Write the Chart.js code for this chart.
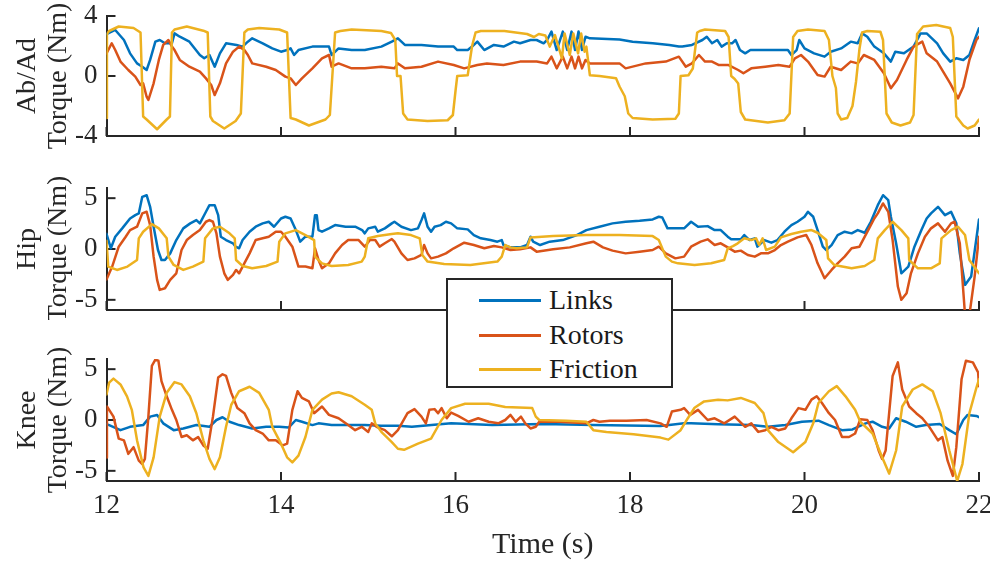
<!DOCTYPE html>
<html>
<head>
<meta charset="utf-8">
<script src="https://cdn.jsdelivr.net/npm/chart.js@4.4.1/dist/chart.umd.min.js"></script>
<style>
  html, body { margin: 0; padding: 0; background: #fff; }
  #wrap { position: relative; width: 990px; height: 563px; overflow: hidden; background: #fff; }
  canvas { position: absolute; left: 0; }
  #legend { position: absolute; left: 446px; top: 278px; width: 227px; height: 110px; box-sizing: border-box;
            border: 2px solid #262626; background: #fff; z-index: 10; font-family: "Liberation Serif", "Times New Roman", serif; color: #1a1a1a; }
  .row { position: absolute; left: 0; width: 100%; height: 30px; }
  .swatch { position: absolute; left: 31px; width: 62px; height: 3px; top: 14px; }
  .lbl { position: absolute; left: 101px; top: 0; font-size: 28px; line-height: 30px; }
</style>
</head>
<body>
<div id="wrap">
  <canvas id="c1" width="990" height="150" style="top:0px"></canvas>
  <canvas id="c2" width="990" height="160" style="top:160px"></canvas>
  <canvas id="c3" width="990" height="233" style="top:330px"></canvas>
  <div id="legend"></div>
</div>
<script>
// ---------------- data (time [s], torque [Nm]) ----------------
const seriesNames = ['Links', 'Rotors', 'Friction'];
const xTicks = [12, 14, 16, 18, 20, 22];
const abadTicks = [-4, 0, 4];
const hipTicks = [-5, 0, 5];
const kneeTicks = [-5, 0, 5];

const abadLinks = [[12.0,2.8],[12.10,3.07],[12.20,2.4],[12.27,1.51],[12.35,0.84],[12.41,0.62],[12.46,0.4],[12.50,1.07],[12.56,2.29],[12.61,2.4],[12.67,2.18],[12.75,2.18],[12.78,2.84],[12.84,2.62],[12.95,2.29],[13.07,1.4],[13.12,1.18],[13.18,1.4],[13.24,0.62],[13.30,1.51],[13.37,2.18],[13.49,2.07],[13.56,1.96],[13.62,2.29],[13.67,2.51],[13.79,2.18],[13.90,1.84],[14.00,1.62],[14.07,1.73],[14.11,1.84],[14.15,1.4],[14.20,1.73],[14.36,1.96],[14.55,1.96],[14.58,1.4],[14.66,1.84],[14.81,1.73],[14.96,1.73],[15.15,1.96],[15.27,2.29],[15.34,2.51],[15.42,2.07],[15.61,2.07],[15.80,1.96],[15.98,1.96],[16.02,1.73],[16.14,1.73],[16.19,1.96],[16.25,2.29],[16.33,1.73],[16.44,2.07],[16.55,1.96],[16.67,2.29],[16.74,2.18],[16.86,2.4],[16.93,2.4],[17.01,2.18],[17.05,2.4],[17.10,2.96],[17.16,1.73],[17.23,2.96],[17.28,1.73],[17.33,2.96],[17.37,1.73],[17.41,2.96],[17.45,1.73],[17.49,2.62],[17.54,2.51],[17.88,2.44],[18.03,2.29],[18.26,2.18],[18.45,2.07],[18.56,1.96],[18.60,1.96],[18.71,2.07],[18.83,2.4],[18.88,2.62],[18.94,2.18],[19.00,2.4],[19.05,1.96],[19.11,2.18],[19.17,2.18],[19.21,2.4],[19.26,1.73],[19.32,1.51],[19.38,1.73],[19.51,1.73],[19.66,1.73],[19.81,1.73],[19.85,1.4],[19.91,1.73],[19.94,2.4],[20.00,1.84],[20.11,1.51],[20.23,1.29],[20.30,1.62],[20.42,1.84],[20.53,2.29],[20.61,2.18],[20.66,2.84],[20.72,2.62],[20.80,1.96],[20.91,1.51],[20.99,0.96],[21.04,1.62],[21.14,1.51],[21.25,1.96],[21.33,2.84],[21.40,2.84],[21.52,2.18],[21.59,1.51],[21.67,0.96],[21.74,1.18],[21.82,1.07],[21.89,1.4],[21.95,2.4],[22.0,3.18]];
const abadRotors = [[12.0,1.5],[12.06,2.18],[12.10,1.73],[12.16,0.96],[12.25,0.4],[12.33,-0.04],[12.39,-0.6],[12.42,-0.49],[12.46,-1.38],[12.48,-1.6],[12.54,-0.49],[12.60,1.07],[12.65,2.07],[12.71,2.4],[12.75,1.96],[12.78,1.73],[12.84,1.07],[12.95,0.62],[13.07,0.29],[13.14,-0.16],[13.20,-0.6],[13.24,-1.27],[13.30,-0.49],[13.37,0.84],[13.45,1.62],[13.52,1.96],[13.58,1.73],[13.62,1.4],[13.67,0.84],[13.83,0.62],[13.94,0.4],[14.05,-0.04],[14.11,-0.16],[14.17,-0.6],[14.24,-0.16],[14.36,0.51],[14.47,1.18],[14.55,1.4],[14.58,0.62],[14.66,0.84],[14.81,0.51],[14.96,0.51],[15.15,0.62],[15.30,0.51],[15.34,0.84],[15.42,0.51],[15.61,0.62],[15.80,0.96],[15.98,0.73],[16.10,0.51],[16.25,0.73],[16.36,0.84],[16.55,0.73],[16.74,0.96],[16.93,0.96],[17.05,0.84],[17.10,1.29],[17.16,0.51],[17.23,1.29],[17.28,0.51],[17.33,1.29],[17.37,0.51],[17.41,1.29],[17.45,0.51],[17.49,1.07],[17.54,0.84],[17.88,0.84],[17.95,0.51],[18.18,0.84],[18.41,0.96],[18.56,1.29],[18.64,0.62],[18.71,0.84],[18.79,1.4],[18.86,0.96],[18.94,0.96],[19.02,0.73],[19.13,0.73],[19.24,0.4],[19.30,0.18],[19.39,0.51],[19.55,0.62],[19.70,0.73],[19.83,0.62],[19.89,1.18],[19.96,1.4],[20.04,0.96],[20.15,0.07],[20.23,-0.04],[20.30,0.62],[20.42,0.4],[20.53,0.96],[20.61,0.84],[20.68,1.4],[20.80,1.07],[20.91,0.18],[20.99,-0.82],[21.06,-0.27],[21.17,1.07],[21.25,1.96],[21.35,2.29],[21.40,1.51],[21.52,0.96],[21.67,-0.49],[21.76,-1.49],[21.82,-0.71],[21.89,1.07],[21.97,2.4],[22.0,2.62]];
const abadFriction = [[12.0,-2.8],[12.005,2.8],[12.03,3.0],[12.14,3.3],[12.31,3.2],[12.39,2.9],[12.42,-2.7],[12.46,-2.9],[12.58,-3.55],[12.69,-2.9],[12.727,-2.7],[12.75,2.9],[12.78,3.1],[12.92,3.3],[13.11,3.02],[13.16,2.9],[13.19,-2.7],[13.22,-3.0],[13.35,-3.5],[13.48,-3.0],[13.54,-2.5],[13.58,2.9],[13.62,3.1],[13.75,3.2],[13.98,3.1],[14.07,2.9],[14.11,-2.8],[14.17,-2.9],[14.32,-3.3],[14.51,-2.9],[14.56,-2.6],[14.62,2.9],[14.68,3.0],[14.81,3.1],[15.15,3.0],[15.26,2.87],[15.31,2.4],[15.33,0.0],[15.37,0.0],[15.40,-2.5],[15.45,-2.9],[15.68,-3.0],[15.91,-2.95],[15.97,-2.6],[16.0,-1.0],[16.02,0.0],[16.14,0.05],[16.19,2.0],[16.23,2.9],[16.29,3.0],[16.56,3.0],[16.82,2.8],[16.90,2.6],[16.955,2.8],[17.03,2.7],[17.08,1.96],[17.14,2.73],[17.22,1.18],[17.25,2.84],[17.31,1.4],[17.35,2.84],[17.405,1.51],[17.44,2.84],[17.48,1.62],[17.5,1.96],[17.54,0.05],[17.65,0.0],[17.84,-0.15],[17.88,-0.7],[17.94,-1.35],[17.98,-2.5],[18.03,-2.8],[18.26,-2.9],[18.52,-2.85],[18.56,-2.5],[18.58,0.0],[18.67,0.05],[18.72,0.5],[18.77,2.9],[18.80,3.0],[18.86,3.1],[19.09,3.0],[19.13,2.6],[19.16,0.0],[19.2,-0.2],[19.24,-0.5],[19.27,-2.4],[19.32,-2.9],[19.58,-3.1],[19.77,-2.95],[19.83,-2.5],[19.87,2.6],[19.92,3.0],[20.04,3.1],[20.23,3.0],[20.28,2.4],[20.32,0.0],[20.36,-0.8],[20.38,-2.5],[20.42,-2.9],[20.49,-2.8],[20.55,-2.0],[20.59,-0.4],[20.63,1.8],[20.66,2.9],[20.72,3.0],[20.87,2.95],[20.90,2.4],[20.94,-2.5],[21.0,-3.1],[21.1,-3.3],[21.21,-3.1],[21.25,-2.6],[21.29,2.8],[21.36,3.3],[21.51,3.4],[21.67,3.2],[21.70,2.6],[21.74,-2.7],[21.82,-3.3],[21.87,-3.5],[21.95,-3.3],[22.0,-2.9]];

const hipLinks = [[12.0,1.5],[12.05,0.07],[12.10,1.21],[12.18,2.03],[12.27,3.0],[12.33,3.33],[12.37,3.5],[12.41,5.13],[12.46,5.29],[12.50,4.15],[12.54,2.19],[12.59,-0.1],[12.63,-1.08],[12.67,-1.08],[12.73,-0.43],[12.80,0.88],[12.88,2.03],[12.96,2.52],[13.03,2.84],[13.07,2.52],[13.14,3.66],[13.18,4.31],[13.24,4.31],[13.28,3.33],[13.31,1.21],[13.37,0.88],[13.45,0.56],[13.48,0.23],[13.52,0.07],[13.56,0.88],[13.64,1.7],[13.71,2.19],[13.79,2.52],[13.86,2.68],[13.92,2.19],[14.0,3.0],[14.05,3.17],[14.11,3.0],[14.17,1.86],[14.22,0.72],[14.28,1.21],[14.36,1.21],[14.39,3.33],[14.41,3.33],[14.43,1.86],[14.47,1.7],[14.55,2.03],[14.62,2.35],[14.74,2.19],[14.85,2.19],[14.93,1.86],[14.96,1.54],[15.0,2.03],[15.08,2.19],[15.11,1.7],[15.19,2.03],[15.27,2.52],[15.30,2.68],[15.38,2.19],[15.49,1.86],[15.57,2.03],[15.61,2.84],[15.64,3.5],[15.68,2.19],[15.72,1.7],[15.76,2.19],[15.83,2.35],[15.89,2.68],[15.95,2.52],[16.02,2.03],[16.14,1.93],[16.21,1.37],[16.29,1.05],[16.40,0.88],[16.48,0.72],[16.53,0.88],[16.55,0.39],[16.63,0.16],[16.74,0.16],[16.82,0.39],[16.86,1.21],[16.89,0.72],[16.97,0.39],[17.08,0.72],[17.23,0.88],[17.39,1.37],[17.50,1.86],[17.65,2.19],[17.80,2.52],[17.95,2.68],[18.11,2.78],[18.26,2.91],[18.33,3.17],[18.37,3.1],[18.43,2.03],[18.52,2.03],[18.62,2.03],[18.70,2.68],[18.78,2.19],[18.89,2.25],[18.97,1.86],[19.04,1.86],[19.12,1.21],[19.16,0.95],[19.27,0.95],[19.31,1.37],[19.37,0.88],[19.43,1.05],[19.46,0.23],[19.54,0.88],[19.62,0.62],[19.69,0.88],[19.77,1.7],[19.85,2.35],[19.92,2.68],[20.0,3.17],[20.04,3.66],[20.10,3.17],[20.15,1.86],[20.21,0.23],[20.25,-0.1],[20.31,0.39],[20.38,1.37],[20.46,1.7],[20.54,1.54],[20.61,1.86],[20.69,1.6],[20.76,2.68],[20.84,4.31],[20.90,5.29],[20.96,4.8],[20.99,3.17],[21.05,0.56],[21.11,-2.39],[21.19,-1.73],[21.26,0.23],[21.34,1.86],[21.40,3.0],[21.45,3.5],[21.53,4.15],[21.61,3.33],[21.68,3.66],[21.74,2.52],[21.78,-0.43],[21.84,-3.53],[21.91,-2.71],[22.0,2.9]];
const hipRotors = [[12.0,-3.0],[12.065,-1.73],[12.14,0.23],[12.22,1.21],[12.27,1.86],[12.35,2.19],[12.41,3.5],[12.46,3.66],[12.50,2.35],[12.54,-0.75],[12.58,-3.04],[12.61,-4.02],[12.67,-3.86],[12.73,-3.04],[12.80,-2.39],[12.86,-0.1],[12.92,0.88],[12.99,1.37],[13.07,1.86],[13.14,2.68],[13.18,2.84],[13.22,2.68],[13.26,1.54],[13.30,-0.75],[13.35,-2.39],[13.39,-3.04],[13.45,-2.55],[13.485,-2.06],[13.52,-2.39],[13.56,-1.73],[13.64,-0.43],[13.71,0.88],[13.79,1.05],[13.86,1.21],[13.94,1.7],[14.0,1.7],[14.05,1.21],[14.13,0.23],[14.20,-1.73],[14.28,-1.73],[14.36,-1.9],[14.39,0.07],[14.43,-1.08],[14.47,-1.9],[14.55,-1.41],[14.62,-0.43],[14.70,0.39],[14.77,0.88],[14.89,0.88],[14.96,0.23],[15.02,0.88],[15.08,0.88],[15.13,0.23],[15.19,0.56],[15.27,0.98],[15.30,0.72],[15.38,-0.43],[15.45,-1.08],[15.53,-0.92],[15.61,-0.59],[15.64,0.39],[15.68,-0.43],[15.72,-0.92],[15.80,-0.75],[15.89,-0.43],[15.98,0.07],[16.10,0.62],[16.21,0.39],[16.33,0.07],[16.44,0.29],[16.53,0.16],[16.63,-0.1],[16.74,-0.03],[16.86,0.16],[16.93,-0.26],[17.12,-0.03],[17.31,0.16],[17.50,0.56],[17.58,0.72],[17.69,0.16],[17.80,-0.16],[17.95,-0.43],[18.11,-0.26],[18.26,-0.1],[18.33,0.23],[18.41,-0.43],[18.52,-0.92],[18.62,-0.75],[18.70,0.23],[18.81,0.72],[18.89,0.95],[18.97,0.39],[19.04,0.56],[19.12,0.16],[19.20,-0.26],[19.27,-0.16],[19.35,-0.59],[19.43,-0.75],[19.50,-0.43],[19.58,-0.43],[19.66,-0.1],[19.73,0.39],[19.81,0.72],[19.92,1.14],[20.02,1.37],[20.08,0.39],[20.15,-1.41],[20.23,-2.88],[20.31,-2.06],[20.38,-1.41],[20.46,-0.75],[20.54,0.07],[20.63,0.23],[20.73,1.86],[20.80,3.0],[20.84,3.5],[20.90,4.48],[20.96,3.66],[21.01,0.88],[21.07,-3.69],[21.11,-5.0],[21.17,-4.35],[21.22,-2.39],[21.30,-0.43],[21.38,1.21],[21.45,2.03],[21.53,2.52],[21.61,1.7],[21.68,2.52],[21.72,2.68],[21.78,0.56],[21.84,-6.5],[21.89,-6.5],[21.95,-2.71],[22.0,1.21]];
const hipFriction = [[12.0,0.8],[12.02,-1.73],[12.12,-2.06],[12.24,-1.73],[12.35,-1.08],[12.37,1.05],[12.42,1.7],[12.52,2.45],[12.60,2.03],[12.69,1.05],[12.71,-0.75],[12.77,-1.57],[12.88,-2.06],[12.99,-1.73],[13.11,-1.24],[13.13,1.05],[13.22,2.03],[13.30,2.19],[13.41,1.54],[13.47,1.05],[13.485,-1.08],[13.56,-1.67],[13.67,-1.9],[13.83,-1.67],[13.96,-1.24],[13.98,0.72],[14.05,1.54],[14.17,1.86],[14.28,1.37],[14.38,0.88],[14.39,-0.75],[14.47,-1.41],[14.58,-1.67],[14.77,-1.57],[14.925,-1.24],[14.96,-0.75],[15.0,1.05],[15.11,1.27],[15.27,1.47],[15.34,1.54],[15.49,1.37],[15.59,1.05],[15.62,-0.59],[15.68,-1.24],[15.87,-1.47],[16.17,-1.57],[16.48,-1.24],[16.53,-0.75],[16.57,0.39],[16.63,0.16],[16.70,0.07],[16.82,0.16],[16.86,1.14],[17.12,1.27],[17.50,1.37],[17.88,1.37],[18.26,1.27],[18.33,0.88],[18.41,-0.75],[18.48,-1.24],[18.55,-1.41],[18.74,-1.57],[18.93,-1.41],[19.08,-1.08],[19.12,0.07],[19.18,0.29],[19.235,0.56],[19.31,1.05],[19.39,0.88],[19.445,1.05],[19.48,0.39],[19.52,1.05],[19.56,-0.1],[19.66,0.23],[19.73,1.14],[19.85,1.47],[19.96,1.7],[20.08,1.86],[20.15,1.6],[20.25,0.88],[20.27,-0.92],[20.34,-1.57],[20.54,-1.9],[20.69,-1.67],[20.80,-1.08],[20.84,1.05],[20.92,1.86],[21.01,2.68],[21.11,1.86],[21.19,1.05],[21.20,-1.08],[21.30,-1.9],[21.45,-1.9],[21.55,-1.41],[21.57,1.05],[21.68,1.86],[21.76,2.19],[21.84,1.37],[21.89,-1.08],[22.0,-2.39]];

const kneeLinks = [[12.0,-0.4],[12.03,-0.5],[12.16,-1.0],[12.27,-0.67],[12.42,-0.5],[12.50,0.33],[12.58,0.5],[12.65,-0.33],[12.77,-1.0],[12.88,-0.83],[13.03,-0.5],[13.18,-0.67],[13.26,0.0],[13.33,0.27],[13.41,-0.17],[13.52,-0.5],[13.67,-0.83],[13.83,-0.67],[13.98,-0.67],[14.09,-0.73],[14.17,0.0],[14.24,-0.17],[14.36,-0.5],[14.43,-0.33],[14.58,-0.5],[14.77,-0.5],[14.96,-0.5],[15.15,-0.57],[15.34,-0.57],[15.5,-0.67],[15.95,-0.33],[16.42,-0.5],[17.0,-0.4],[17.58,-0.5],[18.35,-0.6],[18.62,-0.33],[18.70,-0.33],[19.01,-0.43],[19.39,-0.5],[19.58,-0.67],[19.78,-0.5],[19.97,-0.17],[20.16,-0.07],[20.28,-0.5],[20.43,-1.0],[20.55,-0.93],[20.70,-0.33],[20.78,-0.17],[20.89,-0.67],[20.97,-0.83],[21.05,0.17],[21.16,-0.17],[21.28,-0.67],[21.39,-0.5],[21.55,-0.4],[21.66,-1.0],[21.74,-1.4],[21.82,0.0],[21.87,0.5],[21.97,0.4],[22.0,0.27]];
const kneeRotors = [[12.0,-3.7],[12.005,1.33],[12.08,0.33],[12.14,-1.83],[12.20,-2.0],[12.25,-3.33],[12.31,-2.67],[12.37,-4.0],[12.41,-4.33],[12.44,-3.83],[12.48,0.33],[12.52,5.33],[12.56,5.93],[12.595,5.83],[12.63,3.83],[12.69,2.33],[12.75,1.0],[12.80,0.0],[12.86,-1.67],[12.92,-1.5],[12.99,-2.0],[13.05,-1.67],[13.11,-2.5],[13.16,-2.83],[13.22,0.33],[13.28,4.17],[13.33,4.5],[13.37,4.33],[13.43,2.67],[13.50,1.17],[13.58,0.67],[13.64,-0.33],[13.71,-1.0],[13.79,-1.33],[13.86,-2.0],[13.94,-2.0],[14.02,-2.5],[14.07,-2.33],[14.13,1.0],[14.19,2.83],[14.24,2.17],[14.32,1.83],[14.38,0.67],[14.47,1.33],[14.55,0.5],[14.66,0.17],[14.77,-0.5],[14.85,-1.0],[14.925,-0.67],[15.0,-1.17],[15.04,-0.33],[15.095,-0.67],[15.19,-1.0],[15.27,-1.6],[15.34,-1.0],[15.45,0.67],[15.53,1.07],[15.61,0.33],[15.66,-0.33],[15.70,1.0],[15.76,1.07],[15.80,0.67],[15.84,1.17],[15.90,0.17],[15.95,0.73],[16.03,0.4],[16.15,-0.17],[16.26,0.17],[16.38,-0.17],[16.49,-0.33],[16.57,0.0],[16.63,0.5],[16.69,-0.17],[16.75,0.33],[16.80,-0.33],[16.86,-0.83],[16.92,-0.67],[16.96,-0.17],[17.19,-0.17],[17.50,-0.33],[17.58,0.0],[17.65,-0.17],[17.77,-0.07],[17.96,-0.07],[18.19,0.0],[18.35,-0.33],[18.42,-0.67],[18.48,0.83],[18.58,1.0],[18.62,1.17],[18.69,0.5],[18.78,1.0],[18.89,0.0],[18.97,0.17],[19.08,-0.33],[19.20,0.33],[19.32,-0.67],[19.39,-0.33],[19.47,-1.17],[19.55,-1.0],[19.62,-0.67],[19.70,-1.0],[19.78,-0.83],[19.85,0.17],[19.93,1.17],[20.01,1.0],[20.08,2.0],[20.14,2.33],[20.20,1.67],[20.28,0.67],[20.35,0.0],[20.43,-1.67],[20.51,-1.67],[20.58,-1.33],[20.64,0.07],[20.72,0.0],[20.78,-1.0],[20.85,-3.0],[20.89,-3.83],[20.93,-3.0],[21.01,4.33],[21.07,5.67],[21.12,3.0],[21.20,1.33],[21.28,0.67],[21.35,0.17],[21.43,-0.67],[21.53,-2.0],[21.58,-1.67],[21.64,-4.0],[21.70,-5.5],[21.74,-2.67],[21.80,4.0],[21.85,5.83],[21.93,5.67],[21.99,4.67],[22.0,3.33]];
const kneeFriction = [[12.0,2.5],[12.03,3.67],[12.08,4.07],[12.16,3.5],[12.235,2.33],[12.29,1.0],[12.35,-2.0],[12.425,-4.67],[12.48,-5.5],[12.54,-3.67],[12.61,0.33],[12.69,2.67],[12.78,3.73],[12.86,3.5],[12.955,2.33],[13.03,0.67],[13.11,-2.0],[13.18,-3.83],[13.24,-4.83],[13.30,-3.67],[13.37,-0.67],[13.43,1.5],[13.52,2.83],[13.64,3.27],[13.75,2.67],[13.86,1.0],[13.90,-0.67],[14.0,-2.33],[14.07,-3.67],[14.13,-4.17],[14.20,-3.5],[14.28,-1.67],[14.36,1.0],[14.47,2.0],[14.58,2.6],[14.66,2.73],[14.81,2.33],[14.96,1.5],[15.04,1.0],[15.08,-0.33],[15.15,-1.17],[15.27,-2.17],[15.34,-2.83],[15.41,-2.93],[15.57,-2.33],[15.72,-1.83],[15.84,0.0],[15.95,1.17],[16.11,1.6],[16.38,1.6],[16.57,1.27],[16.88,1.17],[16.92,0.33],[16.96,0.0],[17.27,-0.07],[17.50,-0.17],[17.58,-1.0],[17.73,-1.17],[18.04,-1.4],[18.35,-1.73],[18.44,-1.93],[18.58,-1.0],[18.65,0.0],[18.74,1.2],[18.85,1.83],[19.01,2.0],[19.12,1.93],[19.27,2.17],[19.43,1.67],[19.53,0.67],[19.58,-1.0],[19.70,-2.17],[19.87,-3.17],[20.01,-2.17],[20.10,-0.33],[20.16,1.67],[20.28,2.83],[20.37,3.33],[20.47,2.33],[20.58,1.0],[20.64,-0.17],[20.78,-1.33],[20.89,-3.67],[20.97,-5.27],[21.05,-3.0],[21.12,1.33],[21.24,3.0],[21.35,3.5],[21.47,2.83],[21.56,0.67],[21.66,-3.0],[21.75,-6.0],[21.81,-4.33],[21.89,0.67],[21.97,3.17],[22.0,4.0]];

// ---------------- styling ----------------
const colors = { Links: '#0072BD', Rotors: '#D95319', Friction: '#EDB120' };
const axisColor = '#262626';
const serif = '"Liberation Serif", "Times New Roman", Times, serif';
const LINE_W = 2.5;

function pts(arr) { return arr.map(p => ({ x: p[0], y: p[1] })); }

const inwardTicks = {
  id: 'inwardTicks',
  beforeDatasetsDraw(chart, args, opts) {
    const { ctx, chartArea } = chart;
    const xs = chart.scales.x, ys = chart.scales.y;
    ctx.save();
    ctx.strokeStyle = axisColor;
    ctx.lineWidth = 2;
    opts.xTicks.forEach(v => {
      const px = xs.getPixelForValue(v);
      ctx.beginPath(); ctx.moveTo(px, chartArea.bottom); ctx.lineTo(px, chartArea.bottom - 9); ctx.stroke();
    });
    opts.yTicks.forEach(v => {
      const py = ys.getPixelForValue(v);
      ctx.beginPath(); ctx.moveTo(chartArea.left, py); ctx.lineTo(chartArea.left + 9, py); ctx.stroke();
    });
    ctx.restore();
  }
};

function makePanel(id, cfg) {
  const datasets = [
    { label: 'Friction', data: pts(cfg.friction), borderColor: colors.Friction },
    { label: 'Rotors', data: pts(cfg.rotors), borderColor: colors.Rotors },
    { label: 'Links', data: pts(cfg.links), borderColor: colors.Links }
  ].map(d => Object.assign(d, { borderWidth: LINE_W, pointRadius: 0, tension: 0, fill: false, borderJoinStyle: 'round', borderCapStyle: 'round' }));

  return new Chart(document.getElementById(id), {
    type: 'line',
    data: { datasets },
    options: {
      responsive: false, animation: false, devicePixelRatio: 1,
      layout: { padding: { left: 0, right: 11, top: cfg.padTop, bottom: 0 } },
      plugins: { legend: { display: false }, tooltip: { enabled: false }, inwardTicks: { xTicks: xTicks, yTicks: cfg.yTicks } },
      scales: {
        x: {
          type: 'linear', min: 12, max: 22,
          grid: { display: false, drawTicks: false },
          border: { display: true, color: axisColor, width: 2 },
          afterBuildTicks: s => { s.ticks = xTicks.map(v => ({ value: v })); },
          afterFit: s => { s.height = cfg.xHeight; s.paddingLeft = 0; s.paddingRight = 0; },
          ticks: { display: cfg.showX, color: axisColor, font: { family: serif, size: 27 }, padding: 9, maxRotation: 0, autoSkip: false },
          title: { display: cfg.showX, text: 'Time (s)', color: axisColor, font: { family: serif, size: 30 }, padding: { top: 0, bottom: 0 } }
        },
        y: {
          type: 'linear', min: cfg.yMin, max: cfg.yMax,
          grid: { display: false, drawTicks: false },
          border: { display: true, color: axisColor, width: 2 },
          afterBuildTicks: s => { s.ticks = cfg.yTicks.map(v => ({ value: v })); },
          afterFit: s => { s.width = 106.5; s.paddingTop = 0; s.paddingBottom = 0; },
          ticks: { color: axisColor, font: { family: serif, size: 27 }, padding: 9, callback: v => String(v) },
          title: { display: true, text: [cfg.name, 'Torque (Nm)'], color: axisColor, font: { family: serif, size: 28, lineHeight: 1.1 }, padding: { top: 12, bottom: 0 } }
        }
      }
    },
    plugins: [inwardTicks]
  });
}

makePanel('c1', { name: 'Ab/Ad', links: abadLinks, rotors: abadRotors, friction: abadFriction, yMin: -4, yMax: 4, yTicks: abadTicks, padTop: 16, xHeight: 14, showX: false });
makePanel('c2', { name: 'Hip', links: hipLinks, rotors: hipRotors, friction: hipFriction, yMin: -6, yMax: 6, yTicks: hipTicks, padTop: 28, xHeight: 10, showX: false });
makePanel('c3', { name: 'Knee', links: kneeLinks, rotors: kneeRotors, friction: kneeFriction, yMin: -6, yMax: 6, yTicks: kneeTicks, padTop: 29, xHeight: 82, showX: true });

// legend (real text)
const legend = document.getElementById('legend');
const rowTops = [5, 40, 74];
seriesNames.forEach((n, i) => {
  const row = document.createElement('div');
  row.className = 'row';
  row.style.top = rowTops[i] + 'px';
  const sw = document.createElement('div');
  sw.className = 'swatch';
  sw.style.background = colors[n];
  const lb = document.createElement('div');
  lb.className = 'lbl';
  lb.textContent = n;
  row.appendChild(sw); row.appendChild(lb);
  legend.appendChild(row);
});
</script>
</body>
</html>
